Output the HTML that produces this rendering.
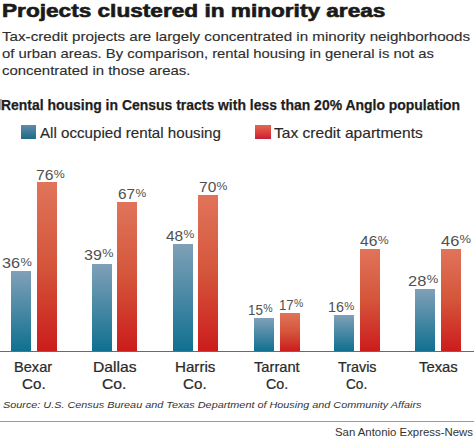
<!DOCTYPE html>
<html><head><meta charset="utf-8"><style>
html,body{margin:0;padding:0;background:#fff;}
body{width:474px;height:438px;position:relative;overflow:hidden;font-family:"Liberation Sans", sans-serif;}
.t{position:absolute;white-space:nowrap;transform-origin:0 0;}
.r{position:absolute;}
.pc{display:inline-block;font-size:10px;line-height:9px;vertical-align:2.3px;transform:scaleX(1.18);transform-origin:0 0;margin-left:0.3px}
</style></head><body>
<div id="title" class="t" style="left:1.74px;top:2.26px;font-size:18px;line-height:18px;font-weight:bold;font-style:normal;color:#1a1a1a;-webkit-text-stroke:0.6px #1a1a1a;transform:scaleX(1.2566)">Projects clustered in minority areas</div>
<div id="sub1" class="t" style="left:2.00px;top:29.74px;font-size:13px;line-height:13px;font-weight:normal;font-style:normal;color:#2e2e2e;-webkit-text-stroke:0.12px #2e2e2e;transform:scaleX(1.1671)">Tax-credit projects are largely concentrated in minority neighborhoods</div>
<div id="sub2" class="t" style="left:1.86px;top:46.79px;font-size:13px;line-height:13px;font-weight:normal;font-style:normal;color:#2e2e2e;-webkit-text-stroke:0.12px #2e2e2e;transform:scaleX(1.1404)">of urban areas. By comparison, rental housing in general is not as</div>
<div id="sub3" class="t" style="left:1.85px;top:63.59px;font-size:13px;line-height:13px;font-weight:normal;font-style:normal;color:#2e2e2e;-webkit-text-stroke:0.12px #2e2e2e;transform:scaleX(1.1482)">concentrated in those areas.</div>
<div id="ctitle" class="t" style="left:1.40px;top:97.06px;font-size:15.4px;line-height:15.4px;font-weight:bold;font-style:normal;color:#1e1e1e;-webkit-text-stroke:0.25px #1e1e1e;transform:scaleX(0.9063)">Rental housing in Census tracts with less than 20% Anglo population</div>
<div id="leg1" class="t" style="left:40.00px;top:126.02px;font-size:14.5px;line-height:14.5px;font-weight:normal;font-style:normal;color:#2a2a2a;-webkit-text-stroke:0.15px #2a2a2a;transform:scaleX(1.0434)">All occupied rental housing</div>
<div id="leg2" class="t" style="left:273.58px;top:126.02px;font-size:14.5px;line-height:14.5px;font-weight:normal;font-style:normal;color:#2a2a2a;-webkit-text-stroke:0.15px #2a2a2a;transform:scaleX(1.0733)">Tax credit apartments</div>
<div id="n0a" class="t" style="left:14.15px;top:359.88px;font-size:14.2px;line-height:14.2px;font-weight:normal;font-style:normal;color:#2a2a2a;-webkit-text-stroke:0.22px #2a2a2a;transform:scaleX(1.0282)">Bexar</div>
<div id="n0b" class="t" style="left:21.50px;top:377.18px;font-size:14.2px;line-height:14.2px;font-weight:normal;font-style:normal;color:#2a2a2a;-webkit-text-stroke:0.22px #2a2a2a;transform:scaleX(1.0684)">Co.</div>
<div id="n1a" class="t" style="left:92.82px;top:359.88px;font-size:14.2px;line-height:14.2px;font-weight:normal;font-style:normal;color:#2a2a2a;-webkit-text-stroke:0.22px #2a2a2a;transform:scaleX(1.1049)">Dallas</div>
<div id="n1b" class="t" style="left:102.40px;top:377.18px;font-size:14.2px;line-height:14.2px;font-weight:normal;font-style:normal;color:#2a2a2a;-webkit-text-stroke:0.22px #2a2a2a;transform:scaleX(1.1076)">Co.</div>
<div id="n2a" class="t" style="left:174.93px;top:359.88px;font-size:14.2px;line-height:14.2px;font-weight:normal;font-style:normal;color:#2a2a2a;-webkit-text-stroke:0.22px #2a2a2a;transform:scaleX(1.0675)">Harris</div>
<div id="n2b" class="t" style="left:182.98px;top:377.18px;font-size:14.2px;line-height:14.2px;font-weight:normal;font-style:normal;color:#2a2a2a;-webkit-text-stroke:0.22px #2a2a2a;transform:scaleX(1.0684)">Co.</div>
<div id="n3a" class="t" style="left:254.24px;top:359.88px;font-size:14.2px;line-height:14.2px;font-weight:normal;font-style:normal;color:#2a2a2a;-webkit-text-stroke:0.22px #2a2a2a;transform:scaleX(1.0351)">Tarrant</div>
<div id="n3b" class="t" style="left:265.94px;top:377.18px;font-size:14.2px;line-height:14.2px;font-weight:normal;font-style:normal;color:#2a2a2a;-webkit-text-stroke:0.22px #2a2a2a;transform:scaleX(1.0054)">Co.</div>
<div id="n4a" class="t" style="left:338.39px;top:359.88px;font-size:14.2px;line-height:14.2px;font-weight:normal;font-style:normal;color:#2a2a2a;-webkit-text-stroke:0.22px #2a2a2a;transform:scaleX(1.0113)">Travis</div>
<div id="n4b" class="t" style="left:345.77px;top:377.18px;font-size:14.2px;line-height:14.2px;font-weight:normal;font-style:normal;color:#2a2a2a;-webkit-text-stroke:0.22px #2a2a2a;transform:scaleX(0.9630)">Co.</div>
<div id="n5a" class="t" style="left:419.24px;top:359.98px;font-size:14.2px;line-height:14.2px;font-weight:normal;font-style:normal;color:#2a2a2a;-webkit-text-stroke:0.22px #2a2a2a;transform:scaleX(1.0461)">Texas</div>
<div id="src" class="t" style="left:2.52px;top:400.27px;font-size:9.6px;line-height:9.6px;font-weight:normal;font-style:italic;color:#333;transform:scaleX(1.1297)">Source: U.S. Census Bureau and Texas Department of Housing and Community Affairs</div>
<div id="saen" class="t" style="left:334.99px;top:427.23px;font-size:11.3px;line-height:11.3px;font-weight:normal;font-style:normal;color:#333;transform:scaleX(1.0074)">San Antonio Express-News</div>
<div id="lb0" class="t" style="left:2.29px;top:254.98px;font-size:15px;line-height:15px;font-weight:normal;font-style:normal;color:#505050;transform:scaleX(1.0814)">36<span class="pc">%</span></div>
<div id="lr0" class="t" style="left:36.33px;top:166.80px;font-size:15px;line-height:15px;font-weight:normal;font-style:normal;color:#505050;transform:scaleX(1.0500)">76<span class="pc">%</span></div>
<div id="lb1" class="t" style="left:83.77px;top:246.60px;font-size:15px;line-height:15px;font-weight:normal;font-style:normal;color:#505050;transform:scaleX(1.0704)">39<span class="pc">%</span></div>
<div id="lr1" class="t" style="left:118.17px;top:186.29px;font-size:15px;line-height:15px;font-weight:normal;font-style:normal;color:#505050;transform:scaleX(1.0247)">67<span class="pc">%</span></div>
<div id="lb2" class="t" style="left:165.81px;top:227.57px;font-size:15px;line-height:15px;font-weight:normal;font-style:normal;color:#505050;transform:scaleX(1.0306)">48<span class="pc">%</span></div>
<div id="lr2" class="t" style="left:198.76px;top:179.12px;font-size:15px;line-height:15px;font-weight:normal;font-style:normal;color:#505050;transform:scaleX(1.0353)">70<span class="pc">%</span></div>
<div id="lb3" class="t" style="left:248.37px;top:301.64px;font-size:15px;line-height:15px;font-weight:normal;font-style:normal;color:#505050;transform:scaleX(0.8936)">15<span class="pc">%</span></div>
<div id="lr3" class="t" style="left:278.94px;top:296.52px;font-size:15px;line-height:15px;font-weight:normal;font-style:normal;color:#505050;transform:scaleX(0.8816)">17<span class="pc">%</span></div>
<div id="lb4" class="t" style="left:328.44px;top:299.12px;font-size:15px;line-height:15px;font-weight:normal;font-style:normal;color:#505050;transform:scaleX(0.9551)">16<span class="pc">%</span></div>
<div id="lr4" class="t" style="left:360.18px;top:232.83px;font-size:15px;line-height:15px;font-weight:normal;font-style:normal;color:#505050;transform:scaleX(1.0413)">46<span class="pc">%</span></div>
<div id="lb5" class="t" style="left:407.54px;top:272.51px;font-size:15px;line-height:15px;font-weight:normal;font-style:normal;color:#505050;transform:scaleX(1.0979)">28<span class="pc">%</span></div>
<div id="lr5" class="t" style="left:441.38px;top:232.52px;font-size:15px;line-height:15px;font-weight:normal;font-style:normal;color:#505050;transform:scaleX(1.0941)">46<span class="pc">%</span></div>
<div class="r" style="left:0;top:98.5px;width:1.6px;height:11.5px;background:#a8a8a8"></div>
<div class="r" style="left:20.9px;top:125px;width:15px;height:14.3px;background:linear-gradient(#5f8cab,#1e6a84)"></div>
<div class="r" style="left:255.4px;top:125px;width:15.2px;height:14.2px;background:linear-gradient(#dc6a50,#e03a3a 60%,#c0203a)"></div>
<div class="r" style="left:10.5px;top:270.94px;width:20.2px;height:80.06px;background:linear-gradient(#80a0b8,#107090)"></div>
<div class="r" style="left:36.5px;top:181.98px;width:20.2px;height:169.02px;background:linear-gradient(#e0745a,#d4553a 50%,#cc1c1c)"></div>
<div class="r" style="left:92px;top:264.26px;width:20.2px;height:86.74px;background:linear-gradient(#80a0b8,#107090)"></div>
<div class="r" style="left:117.0px;top:201.99px;width:20.2px;height:149.01px;background:linear-gradient(#e0745a,#d4553a 50%,#cc1c1c)"></div>
<div class="r" style="left:173px;top:244.25px;width:20.2px;height:106.75px;background:linear-gradient(#80a0b8,#107090)"></div>
<div class="r" style="left:198.1px;top:195.32px;width:20.2px;height:155.68px;background:linear-gradient(#e0745a,#d4553a 50%,#cc1c1c)"></div>
<div class="r" style="left:254px;top:317.64px;width:20.2px;height:33.36px;background:linear-gradient(#80a0b8,#107090)"></div>
<div class="r" style="left:279.5px;top:313.19px;width:20.2px;height:37.81px;background:linear-gradient(#e0745a,#d4553a 50%,#cc1c1c)"></div>
<div class="r" style="left:334.3px;top:315.42px;width:20.2px;height:35.58px;background:linear-gradient(#80a0b8,#107090)"></div>
<div class="r" style="left:360.2px;top:248.70px;width:20.2px;height:102.30px;background:linear-gradient(#e0745a,#d4553a 50%,#cc1c1c)"></div>
<div class="r" style="left:415.3px;top:288.73px;width:20.2px;height:62.27px;background:linear-gradient(#80a0b8,#107090)"></div>
<div class="r" style="left:441.0px;top:248.70px;width:20.2px;height:102.30px;background:linear-gradient(#e0745a,#d4553a 50%,#cc1c1c)"></div>
<div class="r" style="left:0;top:350.5px;width:474px;height:1.2px;background:#6a6a6a"></div>
<div class="r" style="left:0;top:421.3px;width:474px;height:1px;background:#9a9a9a"></div>
</body></html>
